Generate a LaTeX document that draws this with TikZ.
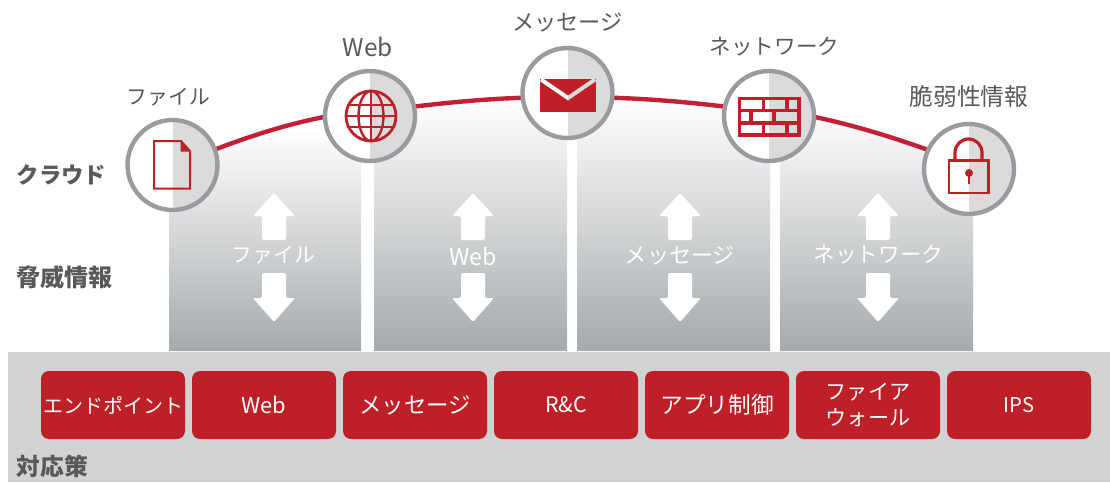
\documentclass[tikz,border=0pt]{standalone}
\usepackage{fontspec}
\setmainfont{Noto Sans CJK JP}
\usetikzlibrary{backgrounds}
\definecolor{crim}{HTML}{C41F38}
\definecolor{boxred}{HTML}{BF1F26}
\definecolor{ringgray}{HTML}{9A9B9F}
\definecolor{halfgray}{HTML}{DBDBDC}
\definecolor{txtgray}{HTML}{58595B}
\definecolor{bandgray}{HTML}{D1D3D2}
\definecolor{colbot}{HTML}{A6AAAD}
\newcommand{\fs}[1]{\fontsize{#1}{#1}\selectfont}
\tikzset{
  ring/.style={circle,draw=ringgray,line width=3.3pt,fill=white,inner sep=0pt,outer sep=0pt,minimum size=67.5pt,
    path picture={\fill[halfgray] (path picture bounding box.north) rectangle (path picture bounding box.south east);}},
  toplabel/.style={text=txtgray,inner sep=0pt},
  collabel/.style={text=white,inner sep=0pt},
  sidelabel/.style={text=txtgray,inner sep=0pt,anchor=west},
  redbox/.style={fill=boxred,rounded corners=6pt,text=white,minimum width=108pt,minimum height=51pt,inner sep=0pt,
    align=center},
  iconline/.style={draw=boxred,line width=1.6pt},
  archline/.style={draw=crim,line width=3.3pt},
  pics/uparrow/.style={code={\fill[white,rounded corners=1.5pt] (0,0) -- (21,23) -- (12,23) -- (12,47) -- (-12,47) -- (-12,23) -- (-21,23) -- cycle;}},
  pics/downarrow/.style={code={\fill[white,rounded corners=1.5pt] (0,0) -- (21,-24) -- (12,-24) -- (12,-49) -- (-12,-49) -- (-12,-24) -- (-21,-24) -- cycle;}},
}
\newcommand{\archfill}{(169,166) -- (f.20) .. controls (250,136) and (288,124) .. (w.181) -- (w.12) .. controls (452,102) and (487,99) .. (m.186) -- (m.354) .. controls (650,99) and (687,102) .. (n.168) -- (n.359) .. controls (853,125) and (892,137) .. (l.155) -- (973,172) -- (973,351) -- (169,351) -- cycle}
\begin{document}
\begin{tikzpicture}[x=0.75pt,y=-0.75pt]
\useasboundingbox (0,0) rectangle (1110,482);
% circles
\node[ring] (f) at (172.5,165) {};
\node[ring] (w) at (370,116) {};
\node[ring] (m) at (567.5,93) {};
\node[ring] (n) at (769,116) {};
\node[ring] (l) at (969,169) {};
\begin{pgfonlayer}{background}
  \fill[bandgray] (8,352) rectangle (1110,482);
  \begin{scope}
    \clip \archfill;
    \shade[top color=white,bottom color=colbot] (169,128) rectangle (361,351);
    \shade[top color=white,bottom color=colbot] (374,98) rectangle (567,351);
    \shade[top color=white,bottom color=colbot] (577,98) rectangle (770,351);
    \shade[top color=white,bottom color=colbot] (780,108) rectangle (973,351);
  \end{scope}
  \draw[archline] (f.20) .. controls (250,136) and (288,124) .. (w.181);
  \draw[archline] (w.12) .. controls (452,102) and (487,99) .. (m.186);
  \draw[archline] (m.354) .. controls (650,99) and (687,102) .. (n.168);
  \draw[archline] (n.359) .. controls (853,125) and (892,137) .. (l.155);
\end{pgfonlayer}
% file icon
\draw[iconline,line width=1.5pt] (154,141) -- (181,141) -- (190,151) -- (190,188.5) -- (154,188.5) -- cycle;
\fill[boxred] (180.5,141) -- (190.5,151.5) -- (180.5,151.5) -- cycle;
% globe icon
\begin{scope}
  \clip (371,116) circle (26);
  \draw[iconline,line width=1.8pt] (345,116) -- (397,116);
  \draw[iconline,line width=1.8pt] (345,105) -- (397,105);
  \draw[iconline,line width=1.8pt] (345,127) -- (397,127);
  \draw[iconline,line width=1.8pt] (371,90) -- (371,142);
\end{scope}
\draw[iconline,line width=1.8pt] (371,116) circle (12.5 and 25);
\draw[iconline,line width=2.1pt] (371,116) circle (25);
% mail icon
\fill[boxred] (540,79) rectangle (596,112);
\begin{scope}
  \clip (540,79) rectangle (568,112);
  \draw[white,line width=3pt] (541,79.5) -- (568,98) -- (595,79.5);
\end{scope}
\begin{scope}
  \clip (568,79) rectangle (596,112);
  \draw[halfgray,line width=3pt] (541,79.5) -- (568,98) -- (595,79.5);
\end{scope}
% firewall icon
\draw[iconline,line width=2.4pt] (739.5,98.5) rectangle (799,135);
\draw[iconline,line width=2.3pt] (739,110.5) -- (799,110.5) (739,123) -- (799,123)
  (763.5,98) -- (763.5,110.5) (787,98) -- (787,110.5)
  (763.5,123) -- (763.5,135) (787,123) -- (787,135)
  (751,110.5) -- (751,123) (774,110.5) -- (774,123);
% lock icon
\draw[iconline,line width=1.9pt] (949,160.5) rectangle (988.5,193);
\draw[iconline,line width=2.4pt] (955,160) -- (955,152.5) arc[start angle=180,end angle=360,radius=13.5] -- (982,160);
\fill[boxred] (969,173) circle (4);
\fill[boxred] (967.7,173) rectangle (970.3,184);
% top labels
\node[toplabel,font=\fs{15.6}] (tf) at (168.5,97) {ファイル};
\node[toplabel,font=\fs{18.3}] (tw) at (368,47) {Web};
\node[toplabel,font=\fs{16.7}] (tm) at (567.5,22.5) {メッセージ};
\node[toplabel,font=\fs{16.2}] (tn) at (774.5,47) {ネットワーク};
\node[toplabel,font=\fs{17.8}] (tl) at (969,96) {脆弱性情報};
% side labels
\node[sidelabel,font=\fs{16.8}\bfseries] (s1) at (16.5,175) {クラウド};
\node[sidelabel,font=\fs{18}\bfseries] (s2) at (16.5,277) {脅威情報};
\node[sidelabel,font=\fs{17.8}\bfseries] (s3) at (16.5,466) {対応策};
% arrows and column labels
\foreach \cx in {274,473,680,878}{
  \pic at (\cx,193) {uparrow};
  \pic at (\cx,322) {downarrow};
}
\node[collabel,font=\fs{15.6}] (c1) at (273.5,255.5) {ファイル};
\node[collabel,font=\fs{17.4}] (c2) at (473,256) {Web};
\node[collabel,font=\fs{16.6}] (c3) at (680,255.5) {メッセージ};
\node[collabel,font=\fs{16.2}] (c4) at (878.5,255) {ネットワーク};
% boxes
\node[redbox,font=\fs{15}] (b1) at (113,405) {エンドポイント};
\node[redbox,font=\fs{16.4}] (b2) at (264,405) {Web};
\node[redbox,font=\fs{16.8}] (b3) at (415,405) {メッセージ};
\node[redbox,font=\fs{16}] (b4) at (566,405) {R\&C};
\node[redbox,font=\fs{17}] (b5) at (717,405) {アプリ制御};
\node[redbox,font=\fontsize{15.8}{19.5}\selectfont] (b6) at (868,405) {ファイア\\ウォール};
\node[redbox,font=\fs{15.2}] (b7) at (1019,405) {IPS};
\end{tikzpicture}
\end{document}
